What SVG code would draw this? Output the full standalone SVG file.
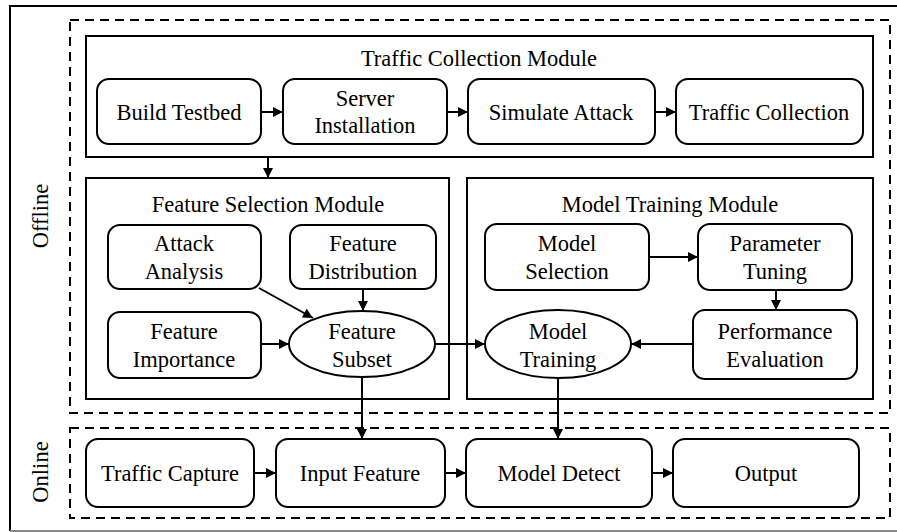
<svg xmlns="http://www.w3.org/2000/svg" width="897" height="532" viewBox="0 0 897 532">
<style>
text{font-family:Liberation Serif,Tinos,Times New Roman,Times,DejaVu Serif,serif;font-size:22.5px;fill:#000;text-anchor:middle}
.box{fill:#fff;stroke:#000;stroke-width:2}
.mod{fill:none;stroke:#000;stroke-width:2}
.dash{fill:none;stroke:#000;stroke-width:2;stroke-dasharray:9 6}
.c{fill:none;stroke:#000;stroke-width:2;marker-end:url(#ah)}
</style>
<defs>
<marker id="ah" viewBox="0 0 10 10" refX="10" refY="5" markerWidth="11" markerHeight="10" markerUnits="userSpaceOnUse" orient="auto">
<path d="M0,0 L10,5 L0,10 z" fill="#000"/>
</marker>
</defs>
<rect width="897" height="532" fill="#fff"/>
<g id="frame">
<path d="M897,6 H10 V531" fill="none" stroke="#000" stroke-width="2"/>
<path d="M10,531 H897" fill="none" stroke="#888" stroke-width="2"/>
</g>
<g id="offline">
<rect class="dash" x="70" y="20" width="820" height="393"/>
<text transform="translate(48,216) rotate(-90)">Offline</text>
</g>
<g id="online">
<rect class="dash" x="70" y="428" width="820" height="90"/>
<text transform="translate(48,472) rotate(-90)">Online</text>
</g>
<g id="traffic-collection-module">
<rect class="mod" x="86" y="36" width="787" height="121"/>
<text x="479" y="66">Traffic Collection Module</text>
</g>
<g id="feature-selection-module">
<rect class="mod" x="86" y="178" width="363" height="221"/>
<text x="268" y="212">Feature Selection Module</text>
</g>
<g id="model-training-module">
<rect class="mod" x="467" y="178" width="406" height="221"/>
<text x="670" y="212">Model Training Module</text>
</g>
<g id="build-testbed"><rect class="box" x="97" y="79" width="164" height="65" rx="12"/><text x="179" y="120">Build Testbed</text></g>
<g id="server-installation"><rect class="box" x="283" y="79" width="164" height="65" rx="12"/><text x="365" y="106">Server</text><text x="365" y="133">Installation</text></g>
<g id="simulate-attack"><rect class="box" x="468" y="79" width="187" height="65" rx="12"/><text x="561" y="120">Simulate Attack</text></g>
<g id="traffic-collection"><rect class="box" x="676" y="79" width="187" height="65" rx="12"/><text x="769" y="120">Traffic Collection</text></g>
<g id="attack-analysis"><rect class="box" x="108" y="225" width="153" height="64" rx="12"/><text x="184" y="251">Attack</text><text x="184" y="279">Analysis</text></g>
<g id="feature-distribution"><rect class="box" x="290" y="225" width="146" height="64" rx="12"/><text x="363" y="251">Feature</text><text x="363" y="279">Distribution</text></g>
<g id="feature-importance"><rect class="box" x="108" y="312" width="153" height="66" rx="12"/><text x="184" y="339">Feature</text><text x="184" y="367">Importance</text></g>
<g id="feature-subset"><ellipse class="box" cx="362" cy="344" rx="73" ry="33"/><text x="362" y="339">Feature</text><text x="362" y="367">Subset</text></g>
<g id="model-selection"><rect class="box" x="485" y="224" width="164" height="66" rx="12"/><text x="567" y="251">Model</text><text x="567" y="279">Selection</text></g>
<g id="parameter-tuning"><rect class="box" x="698" y="224" width="154" height="66" rx="12"/><text x="775" y="251">Parameter</text><text x="775" y="279">Tuning</text></g>
<g id="performance-evaluation"><rect class="box" x="693" y="310" width="164" height="69" rx="12"/><text x="775" y="339">Performance</text><text x="775" y="367">Evaluation</text></g>
<g id="model-training"><ellipse class="box" cx="558" cy="344" rx="73" ry="34"/><text x="558" y="339">Model</text><text x="558" y="367">Training</text></g>
<g id="traffic-capture"><rect class="box" x="86" y="439" width="168" height="68" rx="12"/><text x="170" y="481">Traffic Capture</text></g>
<g id="input-feature"><rect class="box" x="276" y="439" width="169" height="68" rx="12"/><text x="360" y="481">Input Feature</text></g>
<g id="model-detect"><rect class="box" x="466" y="439" width="186" height="68" rx="12"/><text x="559" y="481">Model Detect</text></g>
<g id="output"><rect class="box" x="673" y="439" width="186" height="68" rx="12"/><text x="766" y="481">Output</text></g>
<g id="connectors">
<path class="c" d="M261,112 H283"/>
<path class="c" d="M447,112 H468"/>
<path class="c" d="M655,112 H676"/>
<path class="c" d="M268,157 V178"/>
<path class="c" d="M259,288 L313,318"/>
<path class="c" d="M363,289 V311"/>
<path class="c" d="M261,344 H289"/>
<path class="c" d="M435,344 H485"/>
<path class="c" d="M649,257 H698"/>
<path class="c" d="M776,290 V310"/>
<path class="c" d="M693,344 H631"/>
<path class="c" d="M362,377 V439"/>
<path class="c" d="M558,378 V439"/>
<path class="c" d="M254,473 H276"/>
<path class="c" d="M445,473 H466"/>
<path class="c" d="M652,473 H673"/>
</g>
</svg>
